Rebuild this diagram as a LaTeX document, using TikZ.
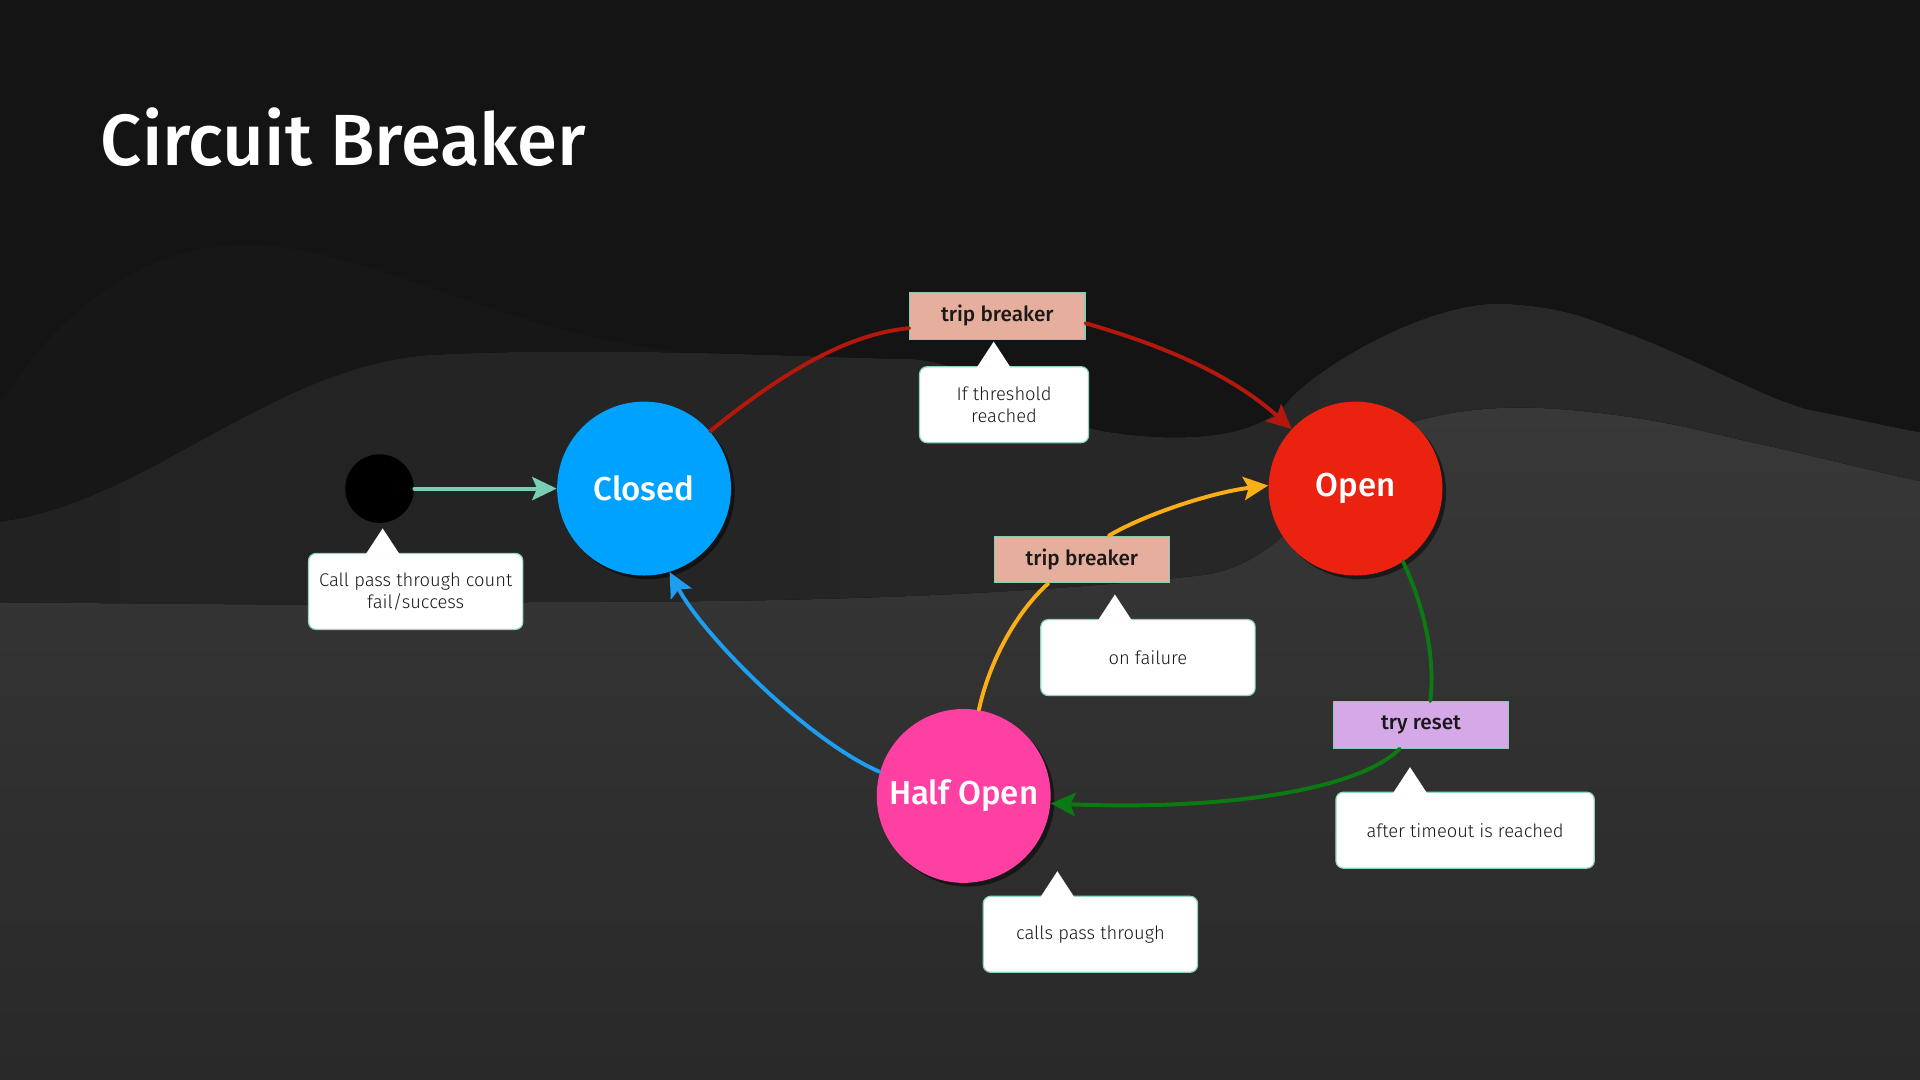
\documentclass[tikz,border=0pt]{standalone}
\usepackage{fontspec}
\setmainfont{Fira Sans}
\newfontfamily\lightfont{Fira Sans Light}
\newfontfamily\medfont{Fira Sans Medium}
\usetikzlibrary{arrows.meta,shadows}
\definecolor{bgzero}{HTML}{141414}
\definecolor{bgone}{HTML}{171717}
\definecolor{bgtwo}{HTML}{2D2D2D}
\definecolor{bgtworight}{HTML}{2A2A2A}
\definecolor{bgleft}{HTML}{222222}
\definecolor{bgthreetop}{HTML}{383838}
\definecolor{bgthreebot}{HTML}{292929}
\definecolor{closedblue}{HTML}{00A2FF}
\definecolor{openred}{HTML}{EB220F}
\definecolor{halfpink}{HTML}{FF40A3}
\definecolor{tripfill}{HTML}{E6AE9D}
\definecolor{resetfill}{HTML}{D5A8E8}
\definecolor{lblborder}{HTML}{86CDB8}
\definecolor{callborder}{HTML}{8FD3C3}
\definecolor{tealc}{HTML}{79CDB4}
\definecolor{redc}{HTML}{B4180C}
\definecolor{yellowc}{HTML}{FBAF17}
\definecolor{greenc}{HTML}{0C7A12}
\definecolor{bluec}{HTML}{1E9EF0}
\newcommand{\mycallout}[4]{%
  \node[callout, minimum width=#3] (#1) at #2 {#4};
  \fill[white] ([xshift=23.5pt,yshift=-0.7pt]#1.north west) -- ([xshift=30.5pt,yshift=10pt]#1.north west) -- ([xshift=37.5pt,yshift=-0.7pt]#1.north west) -- cycle;
}
\begin{document}
\begin{tikzpicture}[x=0.5pt,y=-0.5pt,
  stnode/.style={circle, minimum size=71pt, inner sep=0pt, text=white,
    font=\medfont\fontsize{13.5}{16}\selectfont,
    drop shadow={shadow xshift=1.5pt, shadow yshift=-1.5pt, opacity=0.5, fill=black}},
  startdot/.style={circle, fill=black, minimum size=28pt, inner sep=0pt},
  lbl/.style={draw=lblborder, line width=0.5pt, minimum width=71.5pt, minimum height=19pt,
    inner sep=0pt, font=\medfont\fontsize{8.5}{10}\selectfont, text=black!90},
  callout/.style={draw=callborder, fill=white, rounded corners=3pt, line width=0.5pt,
    minimum height=31pt, inner sep=2pt, align=center,
    font=\lightfont\fontsize{7.5}{9}\selectfont, text=black!90},
  connline/.style={line width=1.6pt, line cap=round},
  conn/.style={connline, -{Stealth[length=10pt,width=9.5pt,inset=2pt]}}
]
\useasboundingbox (0,0) rectangle (1568,882);
% background
\fill[bgzero] (0,0) rectangle (1568,882);
\fill[bgone] (0,500) -- (0,330) .. controls (50,250) and (120,200) .. (200,200)
  .. controls (300,200) and (400,270) .. (560,288) -- (560,500) -- cycle;
\fill[left color=bgleft, middle color=bgtwo, right color=bgtworight]
  (0,426) .. controls (120,410) and (220,300) .. (350,290)
  .. controls (500,282) and (680,293) .. (740,293)
  .. controls (800,295) and (840,340) .. (900,352)
  .. controls (960,362) and (1030,360) .. (1054,325)
  .. controls (1090,290) and (1170,248) .. (1224,248)
  .. controls (1280,250) and (1300,262) .. (1334,274)
  .. controls (1400,300) and (1450,330) .. (1484,336)
  .. controls (1520,343) and (1550,350) .. (1568,353)
  -- (1568,882) -- (0,882) -- cycle;
\fill[top color=bgthreetop, bottom color=bgthreebot]
  (0,492) -- (250,494) .. controls (420,488) and (700,500) .. (980,470)
  .. controls (1060,460) and (1080,380) .. (1150,346)
  .. controls (1200,330) and (1250,332) .. (1284,335)
  .. controls (1360,342) and (1400,355) .. (1434,362)
  .. controls (1480,372) and (1530,385) .. (1568,393)
  -- (1568,882) -- (0,882) -- cycle;
% title
\node[anchor=base west, text=white, font=\medfont\fontsize{29.6}{36}\selectfont, inner sep=0pt]
  (title) at (82,135) {Circuit Breaker};
% states
\node[startdot] (start) at (310,399) {};
\node[stnode, fill=closedblue] (closed) at (526,399) {Closed};
\node[stnode, fill=openred] (open) at (1107,399) {Open};
\node[stnode, fill=halfpink] (half) at (787,650) {Half Open};
% transition labels
\node[lbl, fill=tripfill] (tb1) at (814.5,258) {trip breaker};
\node[lbl, fill=tripfill] (tb2) at (883.5,457) {trip breaker};
\node[lbl, fill=resetfill] (tr) at (1160.5,592) {try reset};
% callouts
\mycallout{c1}{(339.5,483)}{87.5pt}{Call pass through count\\fail/success}
\mycallout{c2}{(820,330.5)}{69pt}{If threshold\\reached}
\mycallout{c3}{(937.5,537)}{87.5pt}{on failure}
\mycallout{c4}{(1196.5,678)}{105.5pt}{after timeout is reached}
\mycallout{c5}{(890.5,763)}{87.5pt}{calls pass through}
% connectors
\draw[conn, tealc] (start) -- (closed);
\draw[connline, redc] (closed.41) .. controls (650,295) and (700,272) .. ([yshift=-5pt]tb1.west);
\draw[conn, redc] ([yshift=-3pt]tb1.east) .. controls (960,285) and (1010,310) .. (open.137);
\draw[connline, yellowc] (half.80) .. controls (808,540) and (830,500) .. ([xshift=-13.75pt]tb2.south);
\draw[conn, yellowc] ([xshift=11pt]tb2.north) .. controls (935,420) and (990,402) .. (open.178);
\draw[connline, greenc] (open.303) .. controls (1165,500) and (1172,540) .. ([xshift=3.75pt]tr.north);
\draw[conn, greenc] ([xshift=-8.75pt]tr.south) .. controls (1110,645) and (1000,662) .. (half.355);
\draw[conn, bluec] (half.164) .. controls (660,605) and (575,520) .. (closed.287);
\end{tikzpicture}
\end{document}
